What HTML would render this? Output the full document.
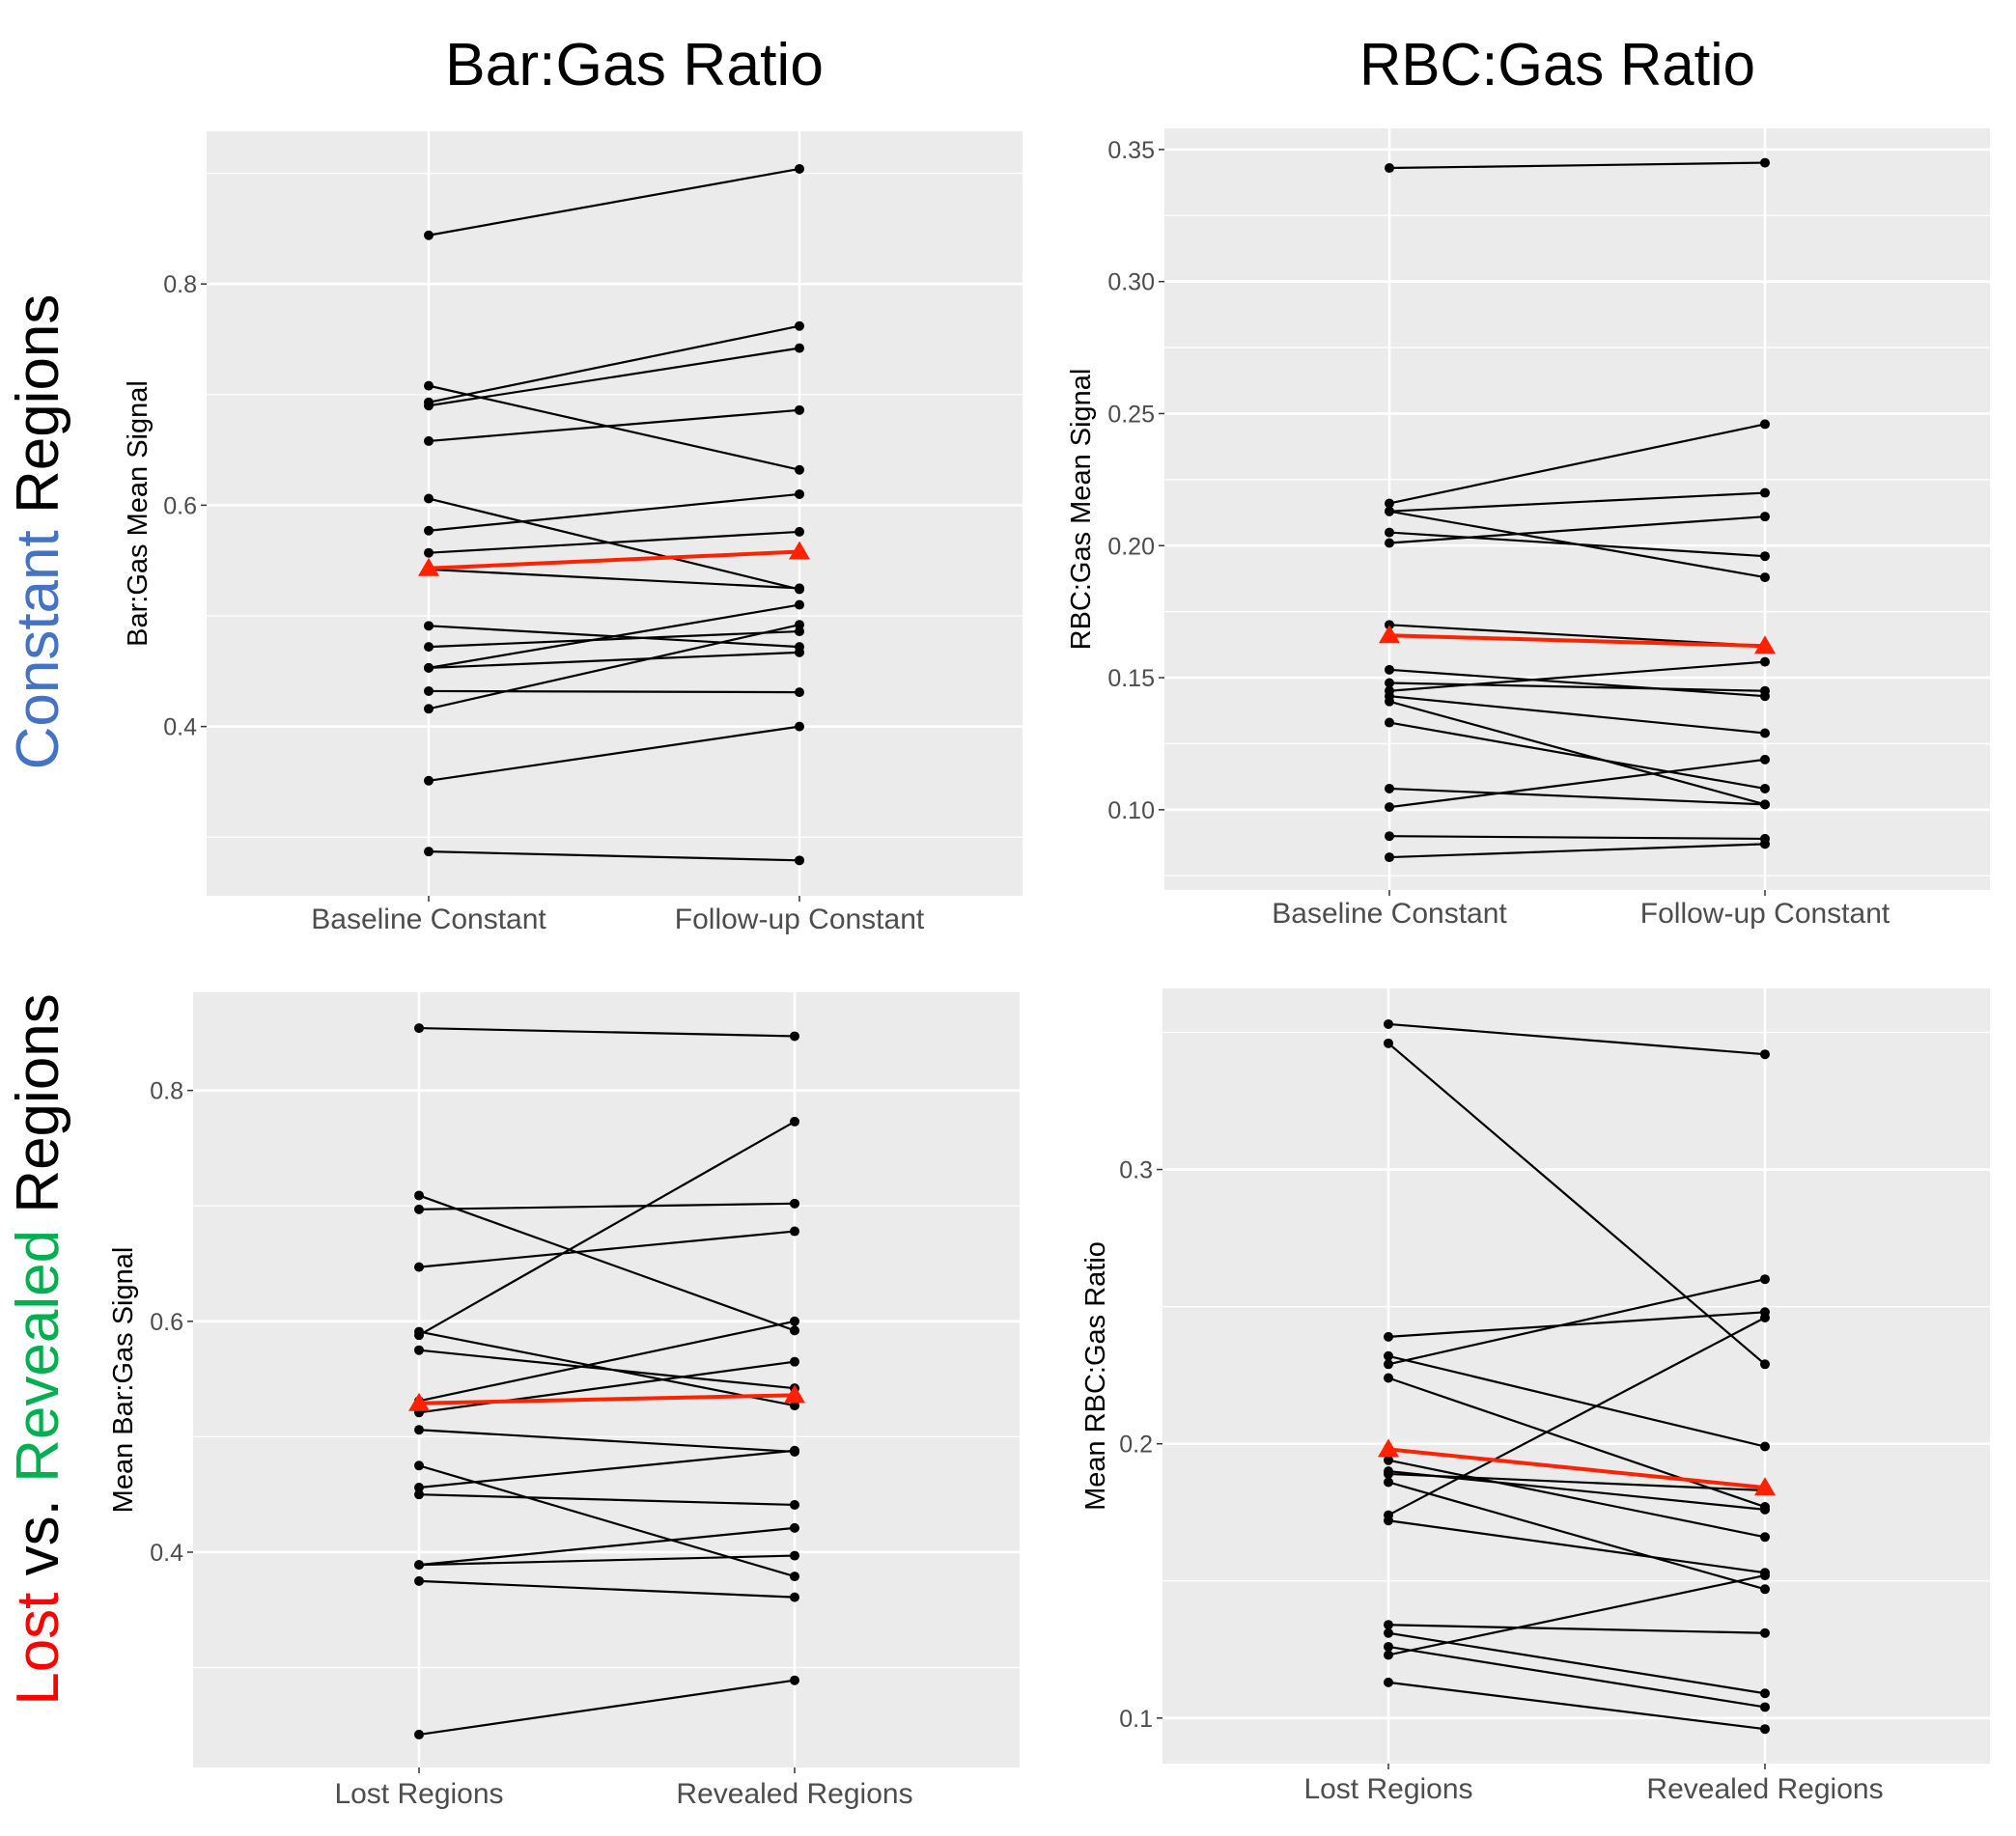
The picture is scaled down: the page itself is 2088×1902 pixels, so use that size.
<!DOCTYPE html>
<html><head><meta charset="utf-8"><style>
html,body{margin:0;padding:0;background:#fff;}
svg{display:block;font-family:"Liberation Sans",sans-serif;}
</style></head><body>
<svg id="fig" width="2088" height="1902" viewBox="0 0 2088 1902" xmlns="http://www.w3.org/2000/svg">
<text x="657" y="88" font-size="62" text-anchor="middle" fill="#000" textLength="392" lengthAdjust="spacingAndGlyphs">Bar:Gas Ratio</text>
<text x="1613" y="88" font-size="62" text-anchor="middle" fill="#000" textLength="410" lengthAdjust="spacingAndGlyphs">RBC:Gas Ratio</text>
<text transform="translate(60,551) rotate(-90)" font-size="62" text-anchor="middle"><tspan fill="#4472c4">Constant</tspan><tspan fill="#000"> Regions</tspan></text>
<text transform="translate(60,1398) rotate(-90)" font-size="62" text-anchor="middle"><tspan fill="#ff0000">Lost</tspan><tspan fill="#000"> vs. </tspan><tspan fill="#00b050">Revealed</tspan><tspan fill="#000"> Regions</tspan></text>
</svg>
<script>
// Panel 1: Bar:Gas constant
const p1Categories = ["Baseline Constant", "Follow-up Constant"];
const p1Start = [0.844,0.708,0.693,0.690,0.658,0.606,0.577,0.557,0.542,0.491,0.472,0.453,0.453,0.432,0.416,0.351,0.287];
const p1End   = [0.904,0.632,0.762,0.742,0.686,0.524,0.610,0.576,0.525,0.472,0.486,0.510,0.467,0.431,0.492,0.400,0.279];
const p1Mean = [0.543, 0.558];
const p1Ticks = [0.4, 0.6, 0.8];
const p1Minor = [0.3, 0.5, 0.7, 0.9];
// Panel 2: RBC:Gas constant
const p2Categories = ["Baseline Constant", "Follow-up Constant"];
const p2Start = [0.343,0.216,0.213,0.213,0.205,0.201,0.170,0.153,0.148,0.145,0.143,0.141,0.133,0.108,0.101,0.090,0.082];
const p2End   = [0.345,0.246,0.220,0.188,0.196,0.211,0.162,0.143,0.145,0.156,0.129,0.102,0.108,0.102,0.119,0.089,0.087];
const p2Mean = [0.166, 0.162];
const p2Ticks = [0.10, 0.15, 0.20, 0.25, 0.30, 0.35];
const p2Minor = [0.075, 0.125, 0.175, 0.225, 0.275, 0.325];
// Panel 3: Bar:Gas lost vs revealed
const p3Categories = ["Lost Regions", "Revealed Regions"];
const p3Start = [0.854,0.709,0.697,0.647,0.588,0.591,0.575,0.531,0.521,0.506,0.475,0.456,0.450,0.389,0.389,0.375,0.242];
const p3End   = [0.847,0.592,0.702,0.678,0.773,0.527,0.542,0.600,0.565,0.487,0.379,0.488,0.441,0.421,0.397,0.361,0.289];
const p3Mean = [0.529, 0.536];
const p3Ticks = [0.4, 0.6, 0.8];
const p3Minor = [0.3, 0.5, 0.7];
// Panel 4: RBC:Gas lost vs revealed
const p4Categories = ["Lost Regions", "Revealed Regions"];
const p4Start = [0.353,0.346,0.239,0.229,0.232,0.224,0.194,0.190,0.189,0.186,0.174,0.172,0.134,0.131,0.126,0.123,0.113];
const p4End   = [0.342,0.229,0.248,0.260,0.199,0.177,0.166,0.176,0.183,0.147,0.246,0.153,0.131,0.109,0.104,0.152,0.096];
const p4Mean = [0.198, 0.184];
const p4Ticks = [0.1, 0.2, 0.3];
const p4Minor = [0.15, 0.25, 0.35];

const NS = "http://www.w3.org/2000/svg";
const svg = document.getElementById('fig');
function mk(tag, attrs, parent){
  const e = document.createElementNS(NS, tag);
  for (const k in attrs) e.setAttribute(k, attrs[k]);
  (parent||svg).appendChild(e);
  return e;
}
function panel(cfg){
  const {x0,x1,y0,y1,cx,vmin,vmax,cats,start,end,mean,ticks,minor,title,titleX,fmt,name,catY} = cfg;
  const g = mk('g', {});
  
  
  const ys = v => y1 - (v - vmin) / (vmax - vmin) * (y1 - y0);
  const bg = mk('rect', {x:x0, y:y0, width:x1-x0, height:y1-y0, fill:'#ebebeb'}, g);
  
  
  minor.forEach(v => {
    if (v < vmin || v > vmax) return;
    const l = mk('line', {x1:x0, x2:x1, y1:ys(v), y2:ys(v), stroke:'#fff', 'stroke-width':1.3}, g);
    
    
  });
  ticks.forEach(v => {
    const l = mk('line', {x1:x0, x2:x1, y1:ys(v), y2:ys(v), stroke:'#fff', 'stroke-width':2.6}, g);
    
    
    const t = mk('line', {x1:x0-6, x2:x0, y1:ys(v), y2:ys(v), stroke:'#333', 'stroke-width':1.5}, g);
    
    
    const tx = mk('text', {x:x0-10, y:ys(v)+9, 'font-size':25, 'text-anchor':'end', fill:'#4d4d4d'}, g);
    tx.textContent = fmt(v);
    
    
  });
  cx.forEach((x, i) => {
    const l = mk('line', {x1:x, x2:x, y1:y0, y2:y1, stroke:'#fff', 'stroke-width':2.6}, g);
    
    
    const t = mk('line', {x1:x, x2:x, y1:y1, y2:y1+6, stroke:'#333', 'stroke-width':1.5}, g);
    
    
    const tx = mk('text', {x:x, y:catY, 'font-size':30, 'text-anchor':'middle', fill:'#4d4d4d'}, g);
    tx.textContent = cats[i];
    
    
  });
  const at = mk('text', {transform:`translate(${titleX},${(y0+y1)/2}) rotate(-90)`, 'font-size':29, 'text-anchor':'middle', fill:'#000'}, g);
  at.textContent = title;
  
  
  start.forEach((s, i) => {
    const l = mk('line', {x1:cx[0], y1:ys(s), x2:cx[1], y2:ys(end[i]), stroke:'#000', 'stroke-width':2.2}, g);
    
    
    [[cx[0], s], [cx[1], end[i]]].forEach(p => {
      const c = mk('circle', {cx:p[0], cy:ys(p[1]), r:5, fill:'#000'}, g);
      
      
    });
  });
  const ml = mk('line', {x1:cx[0], y1:ys(mean[0]), x2:cx[1], y2:ys(mean[1]), stroke:'#ff2200', 'stroke-width':4}, g);
  
  
  [0,1].forEach(i => {
    const x = cx[i], y = ys(mean[i]);
    const tr = mk('polygon', {points:`${x},${y-11} ${x-11},${y+8} ${x+11},${y+8}`, fill:'#ff2200'}, g);
    
    
  });
}
const f1 = v => v.toFixed(1), f2 = v => v.toFixed(2);
panel({name:'bar-gas-constant', x0:214, x1:1059, y0:136, y1:928, cx:[444,828], vmin:0.247, vmax:0.938,
  cats:p1Categories, start:p1Start, end:p1End, mean:p1Mean, ticks:p1Ticks, minor:p1Minor,
  title:'Bar:Gas Mean Signal', titleX:152, fmt:f1, catY:962});
panel({name:'rbc-gas-constant', x0:1206, x1:2061, y0:133, y1:922, cx:[1439,1828], vmin:0.0696, vmax:0.358,
  cats:p2Categories, start:p2Start, end:p2End, mean:p2Mean, ticks:p2Ticks, minor:p2Minor,
  title:'RBC:Gas Mean Signal', titleX:1129, fmt:f2, catY:956});
panel({name:'bar-gas-lost-revealed', x0:200, x1:1056, y0:1028, y1:1831, cx:[434,823], vmin:0.2135, vmax:0.885,
  cats:p3Categories, start:p3Start, end:p3End, mean:p3Mean, ticks:p3Ticks, minor:p3Minor,
  title:'Mean Bar:Gas Signal', titleX:137, fmt:f1, catY:1868});
panel({name:'rbc-gas-lost-revealed', x0:1204, x1:2061, y0:1024, y1:1827, cx:[1438,1828], vmin:0.0834, vmax:0.366,
  cats:p4Categories, start:p4Start, end:p4End, mean:p4Mean, ticks:p4Ticks, minor:p4Minor,
  title:'Mean RBC:Gas Ratio', titleX:1144, fmt:f1, catY:1863});
</script>
</body></html>
